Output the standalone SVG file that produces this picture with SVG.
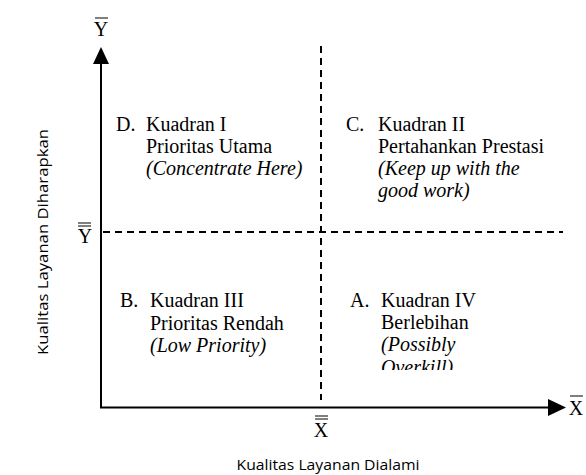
<svg xmlns="http://www.w3.org/2000/svg" width="586" height="475" viewBox="0 0 586 475">
<style>
.t{font-family:"Liberation Serif","Times New Roman",serif;font-size:20px;fill:#000}
.i{font-style:italic}
.s{font-family:"Open Sans","Liberation Sans",sans-serif;font-size:15px;fill:#000}
.ax{stroke:#000;stroke-width:2;fill:none}
.d{stroke:#000;stroke-width:2;stroke-dasharray:7,5;fill:none}
.b{stroke:#000;stroke-width:1}
</style>
<defs>
<clipPath id="clipA"><rect x="330" y="280" width="240" height="90"/></clipPath>
</defs>
<rect width="586" height="475" fill="#fff"/>
<g id="connectors">
<line class="ax" x1="101" y1="408" x2="101" y2="62"/>
<polygon points="101,47 93,64 109,64" fill="#000"/>
<line class="ax" x1="100" y1="407.5" x2="550" y2="407.5"/>
<polygon points="566,407.5 548,399 548,416" fill="#000"/>
<line class="d" x1="321" y1="46" x2="321" y2="400"/>
<line class="d" x1="103" y1="232" x2="563" y2="232"/>
</g>
<g id="axis-labels">
<text class="t" x="101" y="36" text-anchor="middle">Y</text>
<line class="b" x1="95" y1="18" x2="108" y2="18"/>
<text class="t" x="85" y="243" text-anchor="middle">Y</text>
<line class="b" x1="78" y1="223" x2="91" y2="223"/>
<line class="b" x1="78" y1="226" x2="91" y2="226"/>
<text class="t" x="321" y="437" text-anchor="middle">X</text>
<line class="b" x1="315" y1="416" x2="328" y2="416"/>
<line class="b" x1="315" y1="419" x2="328" y2="419"/>
<text class="t" x="576" y="415" text-anchor="middle">X</text>
<line class="b" x1="570" y1="396" x2="583" y2="396"/>
<text class="s" transform="translate(48,242) rotate(-90)" text-anchor="middle" textLength="226" lengthAdjust="spacingAndGlyphs">Kualitas Layanan Diharapkan</text>
<text class="s" x="328" y="470" text-anchor="middle" textLength="183" lengthAdjust="spacingAndGlyphs">Kualitas Layanan Dialami</text>
</g>
<g id="quadrant-1">
<text class="t" x="116" y="131">D.</text>
<text class="t" x="146" y="131">Kuadran I</text>
<text class="t" x="146" y="153">Prioritas Utama</text>
<text class="t i" x="146" y="175">(Concentrate Here)</text>
</g>
<g id="quadrant-2">
<text class="t" x="346" y="131">C.</text>
<text class="t" x="378" y="131">Kuadran II</text>
<text class="t" x="378" y="153">Pertahankan Prestasi</text>
<text class="t i" x="378" y="175">(Keep up with the</text>
<text class="t i" x="378" y="197">good work)</text>
</g>
<g id="quadrant-3">
<text class="t" x="120" y="307">B.</text>
<text class="t" x="150" y="307">Kuadran III</text>
<text class="t" x="150" y="330">Prioritas Rendah</text>
<text class="t i" x="150" y="352">(Low Priority)</text>
</g>
<g id="quadrant-4" clip-path="url(#clipA)">
<text class="t" x="350" y="307">A.</text>
<text class="t" x="381" y="307">Kuadran IV</text>
<text class="t" x="381" y="329">Berlebihan</text>
<text class="t i" x="381" y="351">(Possibly</text>
<text class="t i" x="381" y="374">Overkill)</text>
</g>
</svg>
